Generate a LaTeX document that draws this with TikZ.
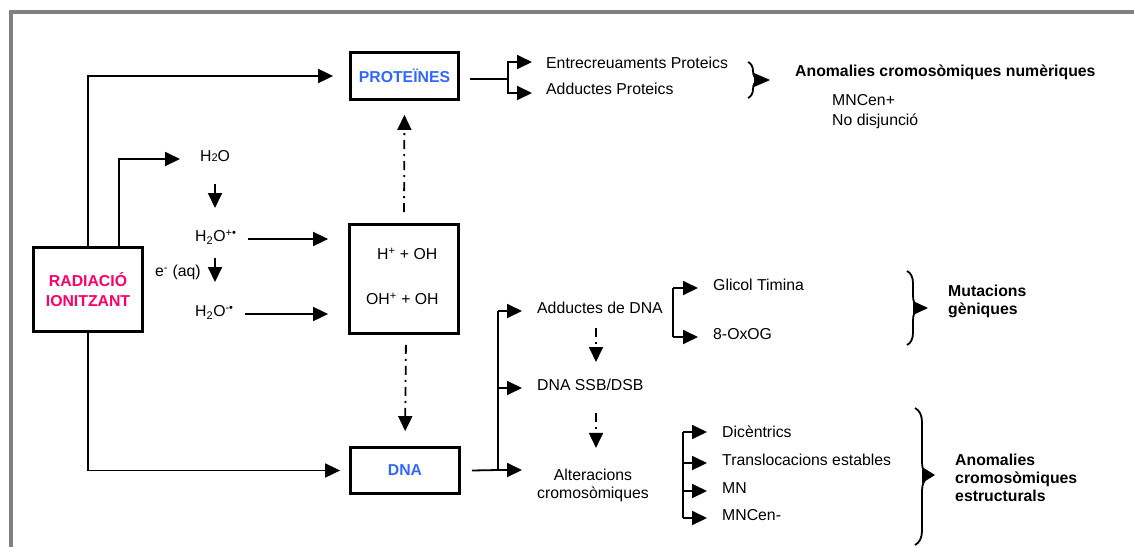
\documentclass[tikz,border=0pt]{standalone}
\usepackage{fontspec}
\setmainfont{Liberation Sans}
\usetikzlibrary{arrows.meta,decorations.pathreplacing,calc}
\definecolor{framegray}{RGB}{128,128,128}
\definecolor{radpink}{RGB}{255,0,102}
\definecolor{molblue}{RGB}{51,102,255}

\begin{document}
\begin{tikzpicture}[x=1pt,y=-1pt,
  every node/.style={font=\fontsize{15.8pt}{18pt}\selectfont, inner sep=0pt},
  lbl/.style={anchor=mid west},
  hd/.style={anchor=west, align=left, font=\fontsize{15.8pt}{18pt}\selectfont\bfseries},
  box/.style={draw, line width=2.8pt},
  conn/.style={line width=1.8pt},
  arr/.style={conn, -{Triangle[length=15pt,width=14pt]}},
  dd/.style={arr, dash pattern=on 9pt off 5pt on 2pt off 5pt},
  brc/.style={decorate, line width=1.8pt},
  tip/.style={fill=black},
]
\useasboundingbox (0,0) rectangle (1134,547);

% outer frame
\draw[framegray, line width=4pt] (10.5,547) -- (10.5,12) -- (1134,12);

% main boxes
\node[box, minimum width=109pt, minimum height=84pt, align=center,
      text=radpink, font=\fontsize{15.8pt}{20pt}\selectfont\bfseries]
      (rad) at (88,289.5) {RADIACIÓ\\IONITZANT};
\node[box, minimum width=108pt, minimum height=47pt, text=molblue,
      font=\fontsize{15.8pt}{18pt}\selectfont\bfseries]
      (prot) at (404.5,76) {PROTEÏNES};
\node[box, minimum width=109pt, minimum height=109pt] (ctr) at (404,279) {};
\node[box, minimum width=109pt, minimum height=46pt, text=molblue,
      font=\fontsize{15.8pt}{18pt}\selectfont\bfseries]
      (dna) at (405,470.5) {DNA};

% radiolysis of water
\node[lbl] (h2o)  at (200,159) {H{\fontsize{11pt}{11pt}\selectfont 2}O};
\node[lbl] (h2op) at (195,239) {H\textsubscript{2}O\textsuperscript{+•}};
\node[lbl] (eaq)  at (155,274) {e\textsuperscript{-} (aq)};
\node[lbl] (h2om) at (195,314) {H\textsubscript{2}O\textsuperscript{-•}};
\node[lbl] (r1) at (377,257) {H\textsuperscript{+} + OH};
\node[lbl] (r2) at (366,302) {OH\textsuperscript{+} + OH};

% protein branch
\node[lbl] (ent) at (546,66) {Entrecreuaments Proteics};
\node[lbl] (adp) at (546,92) {Adductes Proteics};
\node[lbl, font=\fontsize{15.8pt}{18pt}\selectfont\bfseries] (anum) at (795,74)
      {Anomalies cromosòmiques numèriques};
\node[lbl] (mncp) at (832,103) {MNCen+};
\node[lbl] (nodis) at (832,123) {No disjunció};

% DNA branch
\node[lbl] (add) at (537,311) {Adductes de DNA};
\node[lbl] (ssb) at (537,388) {DNA SSB/DSB};
\node[align=center] (alt) at (593,485.5) {Alteracions\\cromosòmiques};
\node[lbl] (gli) at (713,288) {Glicol Timina};
\node[lbl] (oxo) at (713,337) {8-OxOG};
\node[hd] (mut) at (948,301.5) {Mutacions\\gèniques};
\node[lbl] (dic) at (722,435) {Dicèntrics};
\node[lbl] (tra) at (722,463) {Translocacions estables};
\node[lbl] (mn)  at (722,491) {MN};
\node[lbl] (mnc) at (722,518) {MNCen-};
\node[hd] (aest) at (955,478) {Anomalies\\cromosòmiques\\estructurals};

% radiation to targets
\draw[arr, shorten >=16pt] (rad.north) |- (prot.west);
\draw[arr, shorten >=9pt] (rad.south) |- (dna.west);
\draw[arr, shorten >=20pt] ($(rad.north)+(31,0)$) |- (h2o.mid west);

% water reactions
\draw[arr] ($(h2o.mid west)+(15,25)$) -- ($(h2op.mid west)+(20,-31)$);
\draw[arr] ($(h2op.mid west)+(20,19)$) -- ($(h2om.mid west)+(20,-32)$);
\draw[arr, shorten <=11pt, shorten >=20pt] (h2op.mid east) -- (h2op.mid east -| ctr.west);
\draw[arr, shorten <=11pt, shorten >=20pt] (h2om.mid east) -- (h2om.mid east -| ctr.west);

% radicals attack proteins and DNA
\draw[dd, shorten <=11pt, shorten >=14pt] (ctr.north) -- (prot.south);
\draw[dd, shorten <=10pt, shorten >=15pt] ($(ctr.south)+(2,0)$) -- (dna.north);

% protein damage
\coordinate (pf) at (508,79);
\draw[conn] ($(prot.east)+(10,3)$) -- (pf);
\draw[arr, shorten >=14pt] (pf) |- ($(ent.mid west)+(0,-4)$);
\draw[arr, shorten >=14pt] (pf) |- ($(adp.mid west)+(0,1)$);
\draw[brc, decoration={brace, amplitude=10pt}] (748,62) -- (748,98);
\fill[tip] (754,73) -- (770,80) -- (754,87) -- cycle;

% DNA damage
\coordinate (df) at (498,470);
\draw[conn] ($(dna.east)+(11,0)$) -- (df);
\draw[conn] (df) -- (df |- add.mid west);
\draw[arr, shorten >=15pt] (df |- add.mid west) -- (add.mid west);
\draw[arr, shorten >=15pt] (df |- ssb.mid west) -- (ssb.mid west);
\draw[arr] (df) -- ++(24,0);
\draw[dd] ($(add.mid west)+(59,17)$) -- ($(ssb.mid west)+(59,-26)$);
\draw[dd] ($(ssb.mid west)+(59,25)$) -- ($(alt.north)+(3,-21)$);

% DNA adducts
\coordinate (gx) at (673,0);
\draw[conn] (gli.mid west -| gx) -- (oxo.mid west -| gx);
\draw[arr, shorten >=15pt] (gli.mid west -| gx) -- (gli.mid west);
\draw[arr, shorten >=15pt] (oxo.mid west -| gx) -- (oxo.mid west);
\draw[brc, decoration={brace, amplitude=12pt}] (907,271) -- (907,345);
\fill[tip] (913,301) -- (928,308) -- (913,315) -- cycle;

% chromosomal aberrations
\coordinate (sx) at (683,0);
\draw[conn] ($(dic.mid west -| sx)+(0,-3)$) -- (mnc.mid west -| sx);
\draw[arr, shorten >=15pt] ($(dic.mid west -| sx)+(0,-3)$) -- ($(dic.mid west)+(0,-3)$);
\draw[arr, shorten >=15pt] (tra.mid west -| sx) -- (tra.mid west);
\draw[arr, shorten >=15pt] (mn.mid west -| sx) -- (mn.mid west);
\draw[arr, shorten >=15pt] (mnc.mid west -| sx) -- (mnc.mid west);
\draw[brc, decoration={brace, amplitude=14pt}] (915,408) -- (915,545);
\fill[tip] (922,467) -- (935,475) -- (922,483) -- cycle;
\end{tikzpicture}
\end{document}
